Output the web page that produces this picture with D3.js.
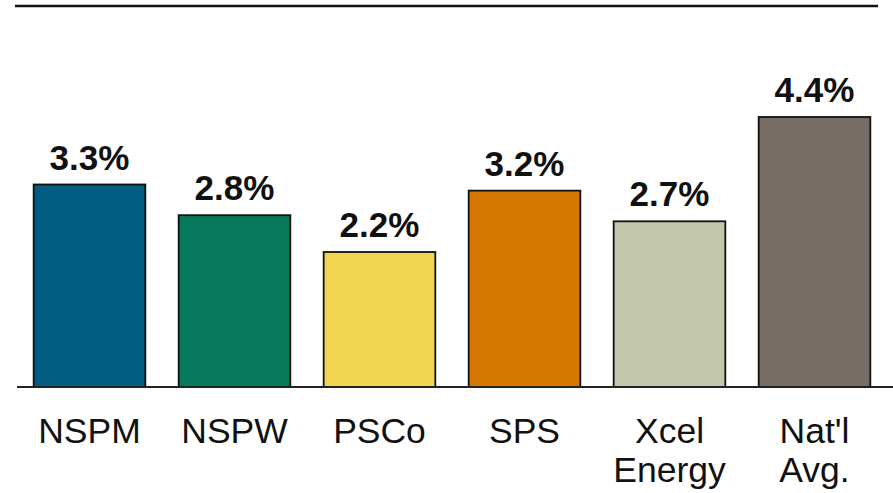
<!DOCTYPE html>
<html>
<head>
<meta charset="utf-8">
<script src="https://cdn.jsdelivr.net/npm/d3@7"></script>
<style>
  body { margin: 0; background: #fff; }
  svg { display: block; font-family: Arial, "Liberation Sans", sans-serif; }
</style>
</head>
<body>
<div id="chart"></div>
<script>
// categories and values
const categories = ['NSPM', 'NSPW', 'PSCo', 'SPS', 'Xcel Energy', "Nat'l Avg."];
const values = [3.3, 2.8, 2.2, 3.2, 2.7, 4.4];
const valueLabels = ['3.3%', '2.8%', '2.2%', '3.2%', '2.7%', '4.4%'];
const colors = ['#035d83', '#077a5b', '#f1d651', '#d67800', '#c4c8aa', '#786d65'];
const catLines = [['NSPM'], ['NSPW'], ['PSCo'], ['SPS'], ['Xcel', 'Energy'], ["Nat'l", 'Avg.']];

const w = 893,
  h = 493,
  baseline = 387;

const svg = d3.select('#chart')
  .append('svg')
  .attr('width', w)
  .attr('height', h);

const x = d3.scaleBand()
  .domain(categories)
  .range([17, 887])
  .paddingInner(0.23)
  .paddingOuter(0.115);

const y = d3.scaleLinear()
  .domain([0, 4.4])
  .range([baseline, 117]);

// rule across the top (title band is cropped)
svg.append('line')
  .attr('x1', 15)
  .attr('x2', 878)
  .attr('y1', 6)
  .attr('y2', 6)
  .attr('stroke', '#111')
  .attr('stroke-width', 2.5);

const bars = svg.append('g').classed('bars', true);

bars.selectAll('rect')
  .data(values)
  .enter()
  .append('rect')
  .attr('x', (d, i) => x(categories[i]))
  .attr('y', d => y(d))
  .attr('width', x.bandwidth())
  .attr('height', d => baseline - y(d))
  .attr('fill', (d, i) => colors[i])
  .attr('stroke', '#111')
  .attr('stroke-width', 1.8);

bars.selectAll('text')
  .data(values)
  .enter()
  .append('text')
  .attr('x', (d, i) => x(categories[i]) + x.bandwidth() / 2)
  .attr('y', d => y(d) - 15)
  .attr('text-anchor', 'middle')
  .attr('font-size', 35)
  .attr('font-weight', 'bold')
  .attr('fill', '#111')
  .text((d, i) => valueLabels[i]);

// baseline axis
svg.append('line')
  .attr('x1', 17)
  .attr('x2', w)
  .attr('y1', baseline)
  .attr('y2', baseline)
  .attr('stroke', '#222')
  .attr('stroke-width', 2);

const labels = svg.append('g').classed('x-labels', true);

labels.selectAll('text')
  .data(categories)
  .enter()
  .append('text')
  .attr('x', d => x(d) + x.bandwidth() / 2)
  .attr('y', 443)
  .attr('text-anchor', 'middle')
  .attr('font-size', 35.5)
  .attr('fill', '#111')
  .each(function(d, i) {
    catLines[i].forEach((t, j) => {
      d3.select(this)
        .append('tspan')
        .attr('x', x(d) + x.bandwidth() / 2)
        .attr('dy', j === 0 ? 0 : 39)
        .text(t);
    });
  });
</script>
</body>
</html>
